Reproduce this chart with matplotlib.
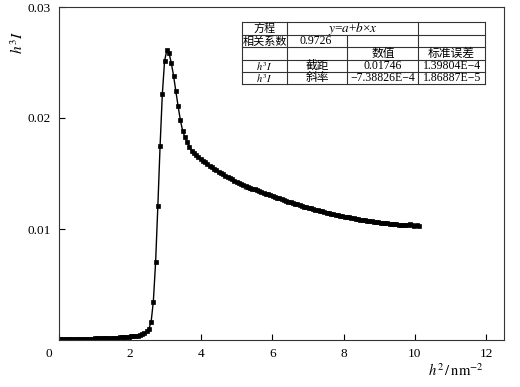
import matplotlib
matplotlib.use("Agg")
import matplotlib.pyplot as plt
from matplotlib.lines import Line2D
import matplotlib.transforms as mtrans

plt.rcParams['font.family'] = ['Liberation Serif', 'Noto Sans CJK SC']
plt.rcParams['mathtext.fontset'] = 'stix'
plt.rcParams['axes.unicode_minus'] = True

# h^2 (nm^-2)
h2 = [0.000, 0.063, 0.126, 0.190, 0.253, 0.316, 0.379, 0.442, 0.506, 0.569,
      0.632, 0.695, 0.758, 0.822, 0.885, 0.948, 1.011, 1.074, 1.138, 1.201,
      1.264, 1.327, 1.390, 1.454, 1.517, 1.580, 1.643, 1.706, 1.770, 1.833,
      1.896, 1.959, 2.022, 2.086, 2.149, 2.212, 2.275, 2.338, 2.402, 2.465,
      2.528, 2.591, 2.654, 2.718, 2.781, 2.844, 2.907, 2.970, 3.034, 3.097,
      3.160, 3.223, 3.286, 3.350, 3.413, 3.476, 3.539, 3.602, 3.666, 3.729,
      3.792, 3.855, 3.918, 3.982, 4.045, 4.108, 4.171, 4.234, 4.298, 4.361,
      4.424, 4.487, 4.550, 4.614, 4.677, 4.740, 4.803, 4.866, 4.930, 4.993,
      5.056, 5.119, 5.182, 5.246, 5.309, 5.372, 5.435, 5.498, 5.562, 5.625,
      5.688, 5.751, 5.814, 5.878, 5.941, 6.004, 6.067, 6.130, 6.194, 6.257,
      6.320, 6.383, 6.446, 6.510, 6.573, 6.636, 6.699, 6.762, 6.826, 6.889,
      6.952, 7.015, 7.078, 7.142, 7.205, 7.268, 7.331, 7.394, 7.458, 7.521,
      7.584, 7.647, 7.710, 7.774, 7.837, 7.900, 7.963, 8.026, 8.090, 8.153,
      8.216, 8.279, 8.342, 8.406, 8.469, 8.532, 8.595, 8.658, 8.722, 8.785,
      8.848, 8.911, 8.974, 9.038, 9.101, 9.164, 9.227, 9.290, 9.354, 9.417,
      9.480, 9.543, 9.606, 9.670, 9.733, 9.796, 9.859, 9.922, 9.986, 10.049,
      10.112]

# h^3 I
h3I = [0.00005, 0.00006, 0.00007, 0.00007, 0.00008, 0.00008, 0.00009, 0.00009, 0.00010, 0.00010,
       0.00011, 0.00011, 0.00012, 0.00012, 0.00013, 0.00013, 0.00014, 0.00015, 0.00015, 0.00016,
       0.00017, 0.00018, 0.00018, 0.00019, 0.00020, 0.00021, 0.00022, 0.00023, 0.00025, 0.00026,
       0.00028, 0.00030, 0.00032, 0.00034, 0.00037, 0.00040, 0.00045, 0.00052, 0.00062, 0.00078,
       0.00100, 0.00160, 0.00345, 0.00700, 0.01207, 0.01750, 0.02216, 0.02514, 0.02613, 0.02583,
       0.02493, 0.02378, 0.02243, 0.02105, 0.01982, 0.01886, 0.01829, 0.01784, 0.01742, 0.01705,
       0.01685, 0.01665, 0.01647, 0.01630, 0.01617, 0.01601, 0.01586, 0.01571, 0.01557, 0.01543,
       0.01530, 0.01517, 0.01504, 0.01492, 0.01480, 0.01468, 0.01457, 0.01446, 0.01436, 0.01426,
       0.01417, 0.01408, 0.01399, 0.01390, 0.01381, 0.01373, 0.01364, 0.01356, 0.01348, 0.01341,
       0.01333, 0.01326, 0.01318, 0.01311, 0.01303, 0.01296, 0.01289, 0.01282, 0.01275, 0.01268,
       0.01261, 0.01254, 0.01247, 0.01240, 0.01234, 0.01227, 0.01221, 0.01215, 0.01208, 0.01202,
       0.01196, 0.01190, 0.01185, 0.01180, 0.01174, 0.01169, 0.01164, 0.01158, 0.01153, 0.01148,
       0.01143, 0.01139, 0.01134, 0.01130, 0.01125, 0.01121, 0.01116, 0.01112, 0.01108, 0.01104,
       0.01100, 0.01097, 0.01093, 0.01089, 0.01085, 0.01082, 0.01079, 0.01076, 0.01073, 0.01070,
       0.01067, 0.01064, 0.01061, 0.01058, 0.01055, 0.01053, 0.01051, 0.01048, 0.01046, 0.01044,
       0.01042, 0.01040, 0.01038, 0.01036, 0.01035, 0.01040, 0.01041, 0.01033, 0.01030, 0.01032,
       0.01025]

# linear fit y = a + b*x, only its start shows beside the data
fit_a = 0.01746
fit_b = -7.38826e-4
fit_range = [5.2, 5.9]

xticks = [0, 2, 4, 6, 8, 10, 12]
yticks = [0.01, 0.02, 0.03]
ytick_labels = ['0.01', '0.02', '0.03']

table_rows = [
    ['方程', '$y$=$a$+$b$×$x$', '', ''],
    ['相关系数', '0.9726', '', ''],
    ['', '', '数值', '标准误差'],
    ['$h^3I$', '截距', '0.01746', '1.39804E−4'],
    ['$h^3I$', '斜率', '−7.38826E−4', '1.86887E−5'],
]

W, H = 520, 387
fig = plt.figure(figsize=(W / 100, H / 100), dpi=100)
ax = fig.add_axes([58.8 / W, 1 - 340 / H, (504 - 58.8) / W, (340 - 7) / H])

ax.plot(h2, h3I, color='black', lw=1.0, marker='s', ms=2.2, mec='black', mfc='black', mew=0.5)
ax.plot(fit_range, [fit_a + fit_b * v for v in fit_range], color='black', lw=0.6)

ax.set_xlim(0, 12.5)
ax.set_ylim(0, 0.03)
ax.set_xticks(xticks)
ax.set_yticks(yticks)
ax.set_yticklabels(ytick_labels)
ax.tick_params(direction='in', length=4, width=0.8, labelsize=9.5, pad=6)
for sp in ax.spines.values():
    sp.set_linewidth(0.8)
    sp.set_color('#333333')

# origin label sits a bit to the left
lab0 = ax.get_xticklabels()[0]
lab0.set_transform(lab0.get_transform() + mtrans.ScaledTranslation(-10 / 100, 0, fig.dpi_scale_trans))

fig.text(18 / W, 1 - 42 / H, '$h^3I$', rotation=90, ha='center', va='center', fontsize=11)
fig.text(456 / W, 1 - 371 / H, r'$h^2\,/\,\mathrm{nm}^{-2}$', ha='center', va='center', fontsize=10.5)

# fit result table
cols = [241.7, 287.3, 347.3, 418.3, 485.0]
rows = [22.3, 35.0, 47.3, 60.0, 72.3, 84.0]


def fx(px):
    return px / W


def fy(py):
    return 1 - py / H


for r in rows:
    fig.add_artist(Line2D([fx(cols[0]), fx(cols[-1])], [fy(r), fy(r)], color='#333333', lw=0.8))
for j, c in enumerate(cols):
    top = rows[0]
    if j == 2:
        top = rows[1]
    fig.add_artist(Line2D([fx(c), fx(c)], [fy(top), fy(rows[-1])], color='#333333', lw=0.8))

for i, row in enumerate(table_rows):
    yc = (rows[i] + rows[i + 1]) / 2
    for j, txt in enumerate(row):
        if not txt:
            continue
        size = 8.5
        if txt.startswith('$h'):
            size = 7.5
        if j == 0 and not txt.startswith('$'):
            size = 8
        if i == 0 and j == 1:
            xc = (cols[1] + cols[3]) / 2
            fig.text(fx(xc), fy(yc), txt, ha='center', va='center', fontsize=9.5)
        elif i == 1 and j == 1:
            fig.text(fx(cols[1] + 12), fy(yc), txt, ha='left', va='center', fontsize=size)
        else:
            xc = (cols[j] + cols[j + 1]) / 2
            fig.text(fx(xc), fy(yc), txt, ha='center', va='center', fontsize=size)

fig.savefig('out.png', dpi=100)
